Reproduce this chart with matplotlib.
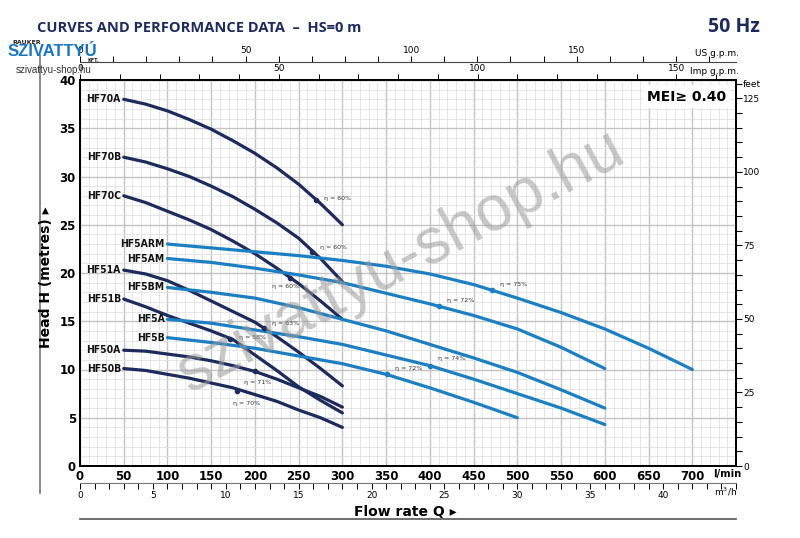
import numpy as np
import matplotlib
matplotlib.use("Agg")
import matplotlib.pyplot as plt
from matplotlib.ticker import MultipleLocator
from matplotlib.lines import Line2D

# pump curves (flow l/min, head m)
q_dark = [50, 75, 100, 125, 150, 175, 200, 225, 250, 275, 300]
hf70a = [38.0, 37.5, 36.8, 35.9, 34.9, 33.7, 32.4, 30.9, 29.2, 27.2, 25.0]
hf70b = [32.0, 31.5, 30.8, 30.0, 29.0, 27.9, 26.6, 25.2, 23.6, 21.5, 19.1]
hf70c = [28.0, 27.3, 26.4, 25.5, 24.5, 23.3, 22.0, 20.5, 18.9, 17.1, 15.2]
hf51a = [20.3, 19.9, 19.2, 18.2, 17.1, 16.0, 14.9, 13.4, 11.8, 10.1, 8.3]
hf51b = [17.3, 16.5, 15.6, 14.8, 14.0, 13.1, 11.5, 9.9, 8.2, 6.8, 5.5]
hf50a = [12.0, 11.9, 11.6, 11.3, 10.9, 10.4, 9.8, 9.0, 8.1, 7.2, 6.1]
hf50b = [10.1, 9.9, 9.5, 9.1, 8.6, 8.1, 7.4, 6.7, 5.8, 5.0, 4.0]

q_arm = [100, 150, 200, 250, 300, 350, 400, 450, 500, 550, 600, 650, 700]
hf5arm = [23.0, 22.6, 22.2, 21.8, 21.3, 20.7, 19.9, 18.8, 17.4, 15.9, 14.2, 12.2, 10.0]
q_600 = [100, 150, 200, 250, 300, 350, 400, 450, 500, 550, 600]
hf5am = [21.5, 21.1, 20.5, 19.8, 19.0, 17.9, 16.8, 15.6, 14.2, 12.3, 10.1]
hf5bm = [18.5, 18.0, 17.4, 16.4, 15.2, 14.0, 12.6, 11.2, 9.7, 7.9, 6.0]
hf5a = [15.2, 14.8, 14.1, 13.4, 12.6, 11.5, 10.4, 9.0, 7.5, 6.0, 4.3]
q_500 = [100, 150, 200, 250, 300, 350, 400, 450, 500]
hf5b = [13.3, 12.8, 12.2, 11.4, 10.6, 9.5, 8.1, 6.6, 5.0]

names = ["HF70A", "HF70B", "HF70C", "HF51A", "HF51B", "HF50A", "HF50B",
         "HF5ARM", "HF5AM", "HF5BM", "HF5A", "HF5B"]
flows = [q_dark] * 7 + [q_arm, q_600, q_600, q_600, q_500]
heads = [hf70a, hf70b, hf70c, hf51a, hf51b, hf50a, hf50b,
         hf5arm, hf5am, hf5bm, hf5a, hf5b]

# efficiency points
eta_q = [270, 265, 240, 210, 172, 200, 180, 471, 410, 400, 351]
eta_h = [27.6, 22.2, 19.5, 14.3, 13.2, 9.8, 7.8, 18.2, 16.6, 10.4, 9.5]
eta_txt = ["η = 60%", "η = 60%", "η = 60%", "η = 63%", "η = 58%", "η = 71%",
           "η = 70%", "η = 75%", "η = 72%", "η = 74%", "η = 72%"]
eta_off = [(6, 1), (6, 3), (-13, -6), (6, 3), (6, 1), (-8, -8),
           (-3, -9), (6, 4), (6, 4), (6, 5), (6, 4)]
eta_curve = [0, 1, 2, 3, 4, 5, 6, 7, 8, 10, 11]

navy = "#1d2b5c"
blue = "#1b7fc2"

fig = plt.figure(figsize=(8, 5.38), dpi=100)
ax = fig.add_axes([0.1, 1 - 466 / 538, 0.82, 386 / 538])
ax.set_xlim(0, 750)
ax.set_ylim(0, 40)

ax.xaxis.set_minor_locator(MultipleLocator(10))
ax.yaxis.set_minor_locator(MultipleLocator(1))
ax.grid(which="major", color="#c4c4c4", lw=1.0)
ax.grid(which="minor", color="#e2e2e2", lw=0.6)
ax.set_axisbelow(True)
ax.tick_params(which="both", length=0, pad=3)
ax.set_xticks(np.arange(0, 751, 50))
ax.set_xticklabels([str(v) if v <= 700 else "" for v in range(0, 751, 50)],
                   fontweight="bold", fontsize=8.5)
ax.set_yticks(np.arange(0, 41, 5))
ax.set_yticklabels([str(v) for v in range(0, 41, 5)], fontweight="bold",
                   fontsize=8.5)
for s in ax.spines.values():
    s.set_linewidth(1.4)

for i, (n, q, h) in enumerate(zip(names, flows, heads)):
    c = navy if i < 7 else blue
    ax.plot(q, h, color=c, lw=2.3, solid_capstyle="round",
            solid_joinstyle="round", zorder=3)
    ax.annotate(n, (q[0], h[0]), xytext=(-2, 0), textcoords="offset points",
                ha="right", va="center", fontsize=7.5, fontweight="bold",
                fontstretch="condensed", color="#111111")

for k, (q, h, t, off) in enumerate(zip(eta_q, eta_h, eta_txt, eta_off)):
    c = navy if eta_curve[k] < 7 else blue
    ax.plot(q, h, "o", ms=3, color=c, zorder=4)
    ax.annotate(t, (q, h), xytext=off, textcoords="offset points",
                ha="left", va="center", fontsize=4.5, color="#333333",
                zorder=5)

# feet axis
ax2 = ax.twinx()
ax2.set_ylim(0, 40 * 3.28084)
ax2.yaxis.set_major_locator(MultipleLocator(25))
ax2.yaxis.set_minor_locator(MultipleLocator(5))
ax2.tick_params(which="both", length=4, width=0.8, labelsize=6.5, pad=1)
for s in ax2.spines.values():
    s.set_linewidth(1.4)

# top axes: Imp and US gallons per minute
imp = ax.secondary_xaxis("top", functions=(lambda x: x / 4.546, lambda x: x * 4.546))
imp.xaxis.set_minor_locator(MultipleLocator(10))
imp.set_xticks([0, 50, 100, 150])
imp.set_xticklabels(["0", "50", "100", "150"])
imp.tick_params(which="both", length=4, width=0.7, labelsize=6.5, pad=1)

us = ax.secondary_xaxis(1 + 18 / 386, functions=(lambda x: x / 3.7854, lambda x: x * 3.7854))
us.xaxis.set_minor_locator(MultipleLocator(10))
us.set_xticks([0, 50, 100, 150])
us.set_xticklabels(["0", "50", "100", "150"])
us.tick_params(which="both", length=4, width=0.7, labelsize=6.5, pad=1)
us.spines["top"].set_linewidth(0.8)
us.spines["top"].set_color("#444444")

# bottom m3/h axis
m3 = ax.secondary_xaxis(-17 / 386, functions=(lambda x: x * 0.06, lambda x: x / 0.06))
m3.xaxis.set_minor_locator(MultipleLocator(1))
m3.set_xticks(np.arange(0, 41, 5))
m3.set_xticklabels([str(v) for v in range(0, 41, 5)])
m3.tick_params(which="both", length=4, width=0.7, labelsize=6.5, pad=2)
m3.spines["bottom"].set_linewidth(0.8)
m3.spines["bottom"].set_color("#777777")

# unit labels
fig.text(727 / 800, 1 - 474 / 538, "l/min", fontsize=8, fontweight="bold",
         ha="center", va="center", fontstretch="condensed")
fig.text(737 / 800, 1 - 492 / 538, "m$^3$/h", fontsize=6.5, ha="right",
         va="center")
fig.text(739 / 800, 1 - 72 / 538, "Imp g.p.m.", fontsize=6.5, ha="right",
         va="center")
fig.text(739 / 800, 1 - 53 / 538, "US g.p.m.", fontsize=6.5, ha="right",
         va="center")
fig.text(743 / 800, 1 - 84 / 538, "feet", fontsize=6.5, ha="left",
         va="center")

fig.text(405 / 800, 1 - 512 / 538, "Flow rate Q \u25b8", fontsize=10,
         fontweight="bold", ha="center", va="center")
fig.add_artist(Line2D([80 / 800, 736 / 800], [1 - 519 / 538] * 2,
                      color="#555555", lw=1.2))
fig.text(46 / 800, 1 - 277 / 538, "Head H (metres) \u25b8", fontsize=10,
         fontweight="bold", rotation=90, ha="center", va="center")
fig.add_artist(Line2D([40 / 800] * 2, [1 - 55 / 538, 1 - 493 / 538],
                      color="#777777", lw=1.2))

# title and frequency
fig.text(37 / 800, 1 - 28 / 538, "CURVES AND PERFORMANCE DATA  \u2013  HS=0 m",
         fontsize=10.5, fontweight="bold", color=navy, family="Open Sans",
         ha="left", va="center")
fig.text(760 / 800, 1 - 27 / 538, "50 Hz", fontsize=14, fontweight="bold",
         color=navy, family="Open Sans", ha="right", va="center")

# MEI box
ax.text(0.985, 0.975, "MEI\u2265 0.40", transform=ax.transAxes, ha="right",
        va="top", fontsize=10, fontweight="bold", zorder=6,
        bbox=dict(boxstyle="square,pad=0.3", fc="white", ec="none"))

# logo texts
fig.text(12 / 800, 1 - 43 / 538, "RAUKER", fontsize=4.5, fontweight="bold",
         color="#222222", ha="left", va="center")
fig.text(8 / 800, 1 - 52 / 538, "SZIVATTYÚ", fontsize=12, fontweight="heavy",
         color="#1b74c0", family="Liberation Sans", ha="left", va="center")
fig.text(88 / 800, 1 - 61 / 538, "KFT.", fontsize=3.5, fontweight="bold",
         color="#222222", ha="left", va="center")
fig.text(54 / 800, 1 - 70 / 538, "szivattyu-shop.hu", fontsize=7,
         color="#333333", family="Liberation Sans", ha="center", va="center")

# watermark
fig.text(400 / 800, 1 - 262 / 538, "szivattyu-shop.hu", fontsize=46,
         color="#9a9a9a", alpha=0.55, rotation=28, family="Liberation Sans",
         ha="center", va="center", zorder=10)

fig.savefig("out.png", dpi=100)
